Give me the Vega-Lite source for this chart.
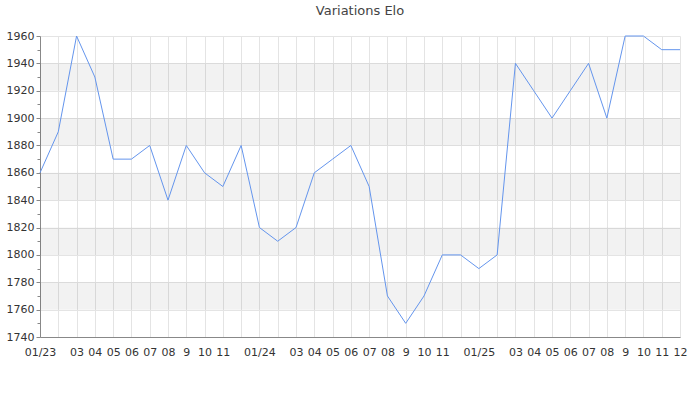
{
  "$schema": "https://vega.github.io/schema/vega-lite/v6.json",
  "width": 640,
  "height": 301,
  "autosize": "none",
  "padding": {"left": 40, "top": 36, "right": 20, "bottom": 63},
  "background": "white",
  "title": {"text": "Variations Elo", "fontSize": 13, "fontWeight": "normal", "font": "DejaVu Sans", "color": "#444444", "offset": 12},
  "config": {
    "view": {"stroke": null},
    "axis": {"labelFont": "DejaVu Sans", "labelFontSize": 11, "labelColor": "#333333", "domainColor": "#888888", "tickColor": "#888888", "gridColor": "#e4e4e4", "title": null}
  },
  "datasets": {
    "elo": [
      {"month": "2023-01", "elo": 1860}, {"month": "2023-02", "elo": 1890}, {"month": "2023-03", "elo": 1960},
      {"month": "2023-04", "elo": 1930}, {"month": "2023-05", "elo": 1870}, {"month": "2023-06", "elo": 1870},
      {"month": "2023-07", "elo": 1880}, {"month": "2023-08", "elo": 1840}, {"month": "2023-09", "elo": 1880},
      {"month": "2023-10", "elo": 1860}, {"month": "2023-11", "elo": 1850}, {"month": "2023-12", "elo": 1880},
      {"month": "2024-01", "elo": 1820}, {"month": "2024-02", "elo": 1810}, {"month": "2024-03", "elo": 1820},
      {"month": "2024-04", "elo": 1860}, {"month": "2024-05", "elo": 1870}, {"month": "2024-06", "elo": 1880},
      {"month": "2024-07", "elo": 1850}, {"month": "2024-08", "elo": 1770}, {"month": "2024-09", "elo": 1750},
      {"month": "2024-10", "elo": 1770}, {"month": "2024-11", "elo": 1800}, {"month": "2024-12", "elo": 1800},
      {"month": "2025-01", "elo": 1790}, {"month": "2025-02", "elo": 1800}, {"month": "2025-03", "elo": 1940},
      {"month": "2025-04", "elo": 1920}, {"month": "2025-05", "elo": 1900}, {"month": "2025-06", "elo": 1920},
      {"month": "2025-07", "elo": 1940}, {"month": "2025-08", "elo": 1900}, {"month": "2025-09", "elo": 1960},
      {"month": "2025-10", "elo": 1960}, {"month": "2025-11", "elo": 1950}, {"month": "2025-12", "elo": 1950}
    ],
    "bands": [
      {"lo": 1760, "hi": 1780}, {"lo": 1800, "hi": 1820}, {"lo": 1840, "hi": 1860},
      {"lo": 1880, "hi": 1900}, {"lo": 1920, "hi": 1940}
    ]
  },
  "layer": [
    {
      "data": {"name": "bands"},
      "mark": {"type": "rect", "fill": "#000000", "opacity": 0.05},
      "encoding": {
        "y": {
          "field": "lo", "type": "quantitative",
          "scale": {"domain": [1740, 1960], "nice": false, "zero": false},
          "axis": {
            "values": [1740,1750,1760,1770,1780,1790,1800,1810,1820,1830,1840,1850,1860,1870,1880,1890,1900,1910,1920,1930,1940,1950,1960],
            "labelExpr": "datum.value % 20 == 0 ? datum.label : ''",
            "labelOverlap": false,
            "labelPadding": 2,
            "tickSize": {"condition": {"test": "datum.value % 20 == 0", "value": 4}, "value": 3},
            "gridOpacity": {"condition": {"test": "datum.value % 20 == 0", "value": 1}, "value": 0},
            "format": "d"
          }
        },
        "y2": {"field": "hi"}
      }
    },
    {
      "data": {"name": "elo"},
      "mark": {"type": "line", "color": "#6495ED", "strokeWidth": 1},
      "encoding": {
        "x": {
          "field": "month", "type": "ordinal", "sort": null,
          "scale": {"type": "point", "padding": 0},
          "axis": {
            "labelAngle": 0, "ticks": false, "labelPadding": 9, "labelOverlap": false,
            "grid": true, "domain": true,
            "labelExpr": "slice(datum.value,5)=='01' ? '01/' + slice(datum.value,2,4) : slice(datum.value,5)=='09' ? '9' : (slice(datum.value,5)=='02' || (slice(datum.value,5)=='12' && datum.value != '2025-12')) ? '' : slice(datum.value,5)"
          }
        },
        "y": {
          "field": "elo", "type": "quantitative",
          "scale": {"domain": [1740, 1960], "nice": false, "zero": false},
          "axis": {
            "values": [1740,1750,1760,1770,1780,1790,1800,1810,1820,1830,1840,1850,1860,1870,1880,1890,1900,1910,1920,1930,1940,1950,1960],
            "labelExpr": "datum.value % 20 == 0 ? datum.label : ''",
            "labelOverlap": false,
            "labelPadding": 2,
            "tickSize": {"condition": {"test": "datum.value % 20 == 0", "value": 4}, "value": 3},
            "gridOpacity": {"condition": {"test": "datum.value % 20 == 0", "value": 1}, "value": 0},
            "format": "d"
          }
        }
      }
    }
  ]
}
